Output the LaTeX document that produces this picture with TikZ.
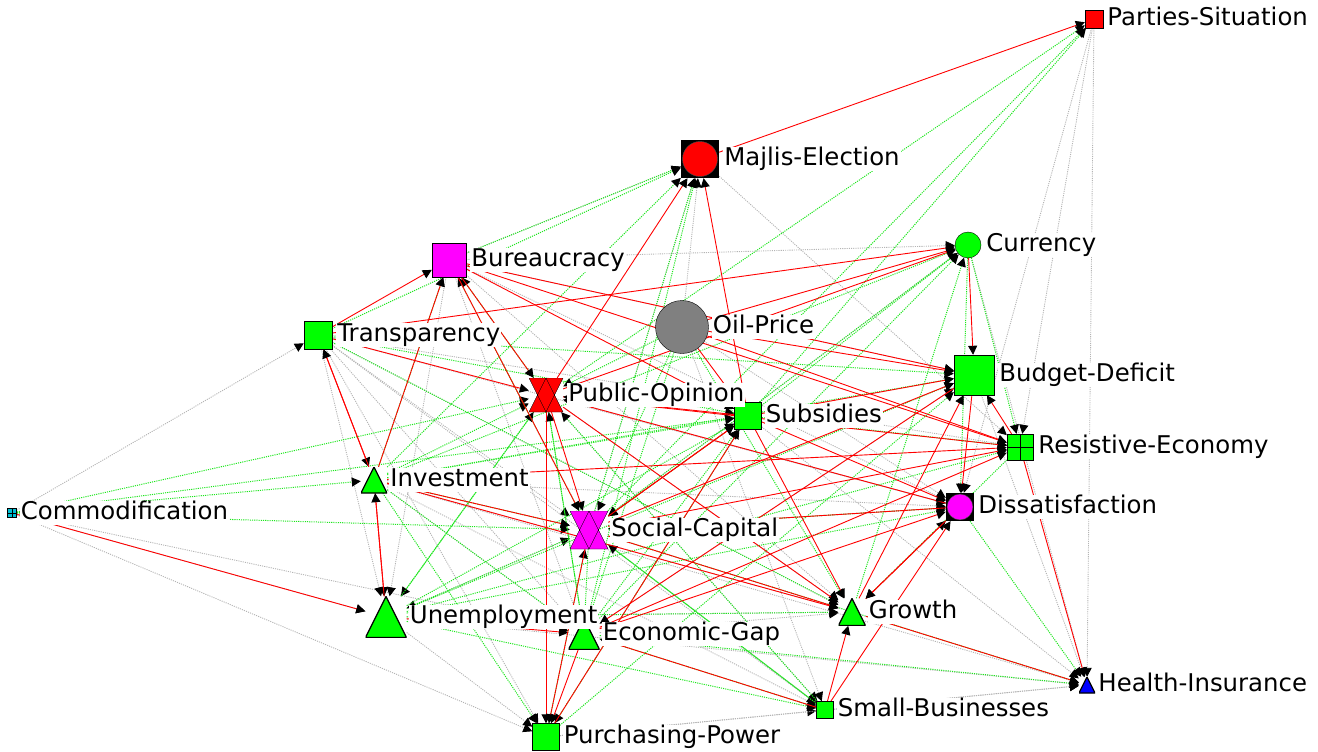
\documentclass[tikz,border=0pt]{standalone}
\usepackage{fontspec}
\setmainfont{DejaVu Sans}
\usetikzlibrary{positioning,arrows.meta,backgrounds}
\definecolor{vred}{RGB}{255,0,0}
\definecolor{vgreen}{RGB}{0,255,0}
\definecolor{vmag}{RGB}{255,0,255}
\definecolor{vgray}{RGB}{128,128,128}
\definecolor{vblue}{RGB}{0,0,255}
\definecolor{vcyan}{RGB}{0,190,210}
\definecolor{lgray}{RGB}{180,180,180}
\definecolor{dgreen}{RGB}{30,230,30}

\begin{document}
\begin{tikzpicture}[x=1pt, y=-1pt,
  box/.style 2 args={rectangle, draw=black, fill=#2, minimum size=#1, inner sep=0pt},
  dot/.style 2 args={circle, draw=black, fill=#2, minimum size=#1, inner sep=0pt},
  ring/.style 2 args={rectangle, fill=black, minimum size=#1, inner sep=0pt,
    path picture={\filldraw[fill=#2, draw=black!70] (path picture bounding box.center) circle (0.46*#1);}},
  cross/.style 2 args={rectangle, draw=black, fill=#2, minimum size=#1, inner sep=0pt,
    path picture={\draw (path picture bounding box.north) -- (path picture bounding box.south)
      (path picture bounding box.west) -- (path picture bounding box.east);}},
  tri/.style 2 args={rectangle, minimum size=#1, inner sep=0pt,
    path picture={\filldraw[fill=#2, draw=black, line width=1.2pt]
      (path picture bounding box.south west) -- (path picture bounding box.south east)
      -- (path picture bounding box.north) -- cycle;}},
  hour/.style 2 args={rectangle, minimum size=#1, inner sep=0pt,
    path picture={\filldraw[fill=#2, draw=black]
      (path picture bounding box.north west) -- (path picture bounding box.north east)
      -- (path picture bounding box.south) -- cycle
      (path picture bounding box.south east) -- (path picture bounding box.south west)
      -- (path picture bounding box.north) -- cycle;}},
  lab/.style={fill=white, inner sep=1pt, font=\fontsize{24.4}{28}\selectfont,
    text height=17.5pt, text depth=5pt},
  tip/.style={-{Triangle[length=9pt,width=9pt,black]}},
  posrel/.style={tip, draw=vred, line width=0.9pt},
  negrel/.style={tip, draw=dgreen, line width=1pt, dash pattern=on 1.1pt off 1.1pt},
  nonrel/.style={tip, draw=lgray, line width=0.9pt, dash pattern=on 1.1pt off 1.1pt}
]
\useasboundingbox (0,0) rectangle (1318,752);

% concepts
\node[box={18pt}{vred}] (PS) at (1094,19) {};
\node[ring={38pt}{vred}] (ME) at (700,159) {};
\node[dot={26pt}{vgreen}] (CU) at (968,245) {};
\node[box={34pt}{vmag}] (BU) at (449,260) {};
\node[box={28pt}{vgreen}] (TR) at (318,335) {};
\node[dot={53pt}{vgray}] (OP) at (682,327) {};
\node[box={40pt}{vgreen}] (BD) at (974,375) {};
\node[hour={34pt}{vred}] (PO) at (546,395) {};
\node[box={27pt}{vgreen}] (SU) at (748,416) {};
\node[cross={26pt}{vgreen}] (RE) at (1020,447) {};
\node[tri={26pt}{vgreen}] (IN) at (374,480) {};
\node[ring={28pt}{vmag}] (DI) at (960,507) {};
\node[cross={9pt}{vcyan}] (CO) at (12,513) {};
\node[hour={38pt}{vmag}] (SC) at (589,530) {};
\node[tri={41pt}{vgreen}] (UN) at (386,617) {};
\node[tri={31pt}{vgreen}] (EG) at (584,634) {};
\node[tri={27pt}{vgreen}] (GR) at (852,612) {};
\node[tri={16pt}{vblue}] (HI) at (1087,685) {};
\node[box={17pt}{vgreen}] (SB) at (825,710) {};
\node[box={27pt}{vgreen}] (PP) at (546,737) {};

% labels
\node[lab, right=3pt of PS] (lPS) {Parties-Situation};
\node[lab, right=4pt of ME] (lME) {Majlis-Election};
\node[lab, right=4pt of CU] (lCU) {Currency};
\node[lab, right=4pt of BU] (lBU) {Bureaucracy};
\node[lab, right=4pt of TR] (lTR) {Transparency};
\node[lab, right=3pt of OP] (lOP) {Oil-Price};
\node[lab, right=4pt of BD] (lBD) {Budget-Deficit};
\node[lab, right=4pt of PO] (lPO) {Public-Opinion};
\node[lab, right=3pt of SU] (lSU) {Subsidies};
\node[lab, right=4pt of RE] (lRE) {Resistive-Economy};
\node[lab, right=2pt of IN] (lIN) {Investment};
\node[lab, right=3pt of DI] (lDI) {Dissatisfaction};
\node[lab, right=3pt of CO] (lCO) {Commodification};
\node[lab, right=2pt of SC] (lSC) {Social-Capital};
\node[lab, right=2pt of UN] (lUN) {Unemployment};
\node[lab, right=2pt of EG] (lEG) {Economic-Gap};
\node[lab, right=2pt of GR] (lGR) {Growth};
\node[lab, right=2pt of HI] (lHI) {Health-Insurance};
\node[lab, right=3pt of SB] (lSB) {Small-Businesses};
\node[lab, right=3pt of PP] (lPP) {Purchasing-Power};

% relations
\begin{pgfonlayer}{background}
\foreach \a/\b in {CO/TR, CO/PP, CO/EG, PS/RE, PS/DI, CU/HI, TR/SC, TR/UN, TR/GR,
  BU/CU, BU/BD, BU/DI, UN/PP, SB/HI, IN/DI, SC/ME, ME/RE, OP/ME, TR/EG, BU/GR,
  UN/SC, PP/SB, EG/GR, PO/DI, TR/RE, UN/HI, PP/HI, BD/HI, IN/SB, SC/DI, OP/DI,
  BU/ME, PS/HI, UN/GR, TR/DI, IN/GR, CO/UN, TR/SB, PO/SB, IN/HI, EG/BD, BU/UN,
  TR/PP, IN/EG, SC/SB, PO/GR, BU/EG, OP/SB, CU/SC, SU/HI}
  \draw[nonrel] (\a) -- (\b);
\foreach \a/\b in {CO/IN, CO/PO, CO/SU, CO/SC, BU/ME, IN/ME, PO/PS, SC/PS, SU/PS,
  SC/CU, SU/CU, IN/CU, EG/CU, TR/BD, IN/BD, UN/BD, CU/RE, SU/RE, UN/RE, SC/DI,
  UN/DI, UN/GR, TR/GR, UN/SB, EG/SB, SC/SB, SU/PP, IN/PP, SC/HI, EG/HI, DI/HI,
  SC/UN, PO/UN, SC/EG, IN/EG, PO/EG, SU/SC, IN/PO, UN/PO, EG/PO, IN/SU, TR/SU,
  EG/SU, UN/SU, IN/BU, SC/BU, PO/BU, CU/DI, OP/SC, OP/PO, OP/GR, OP/EG, PP/SC,
  SB/SC, SB/PO, GR/CU, PP/BD, EG/ME, SC/ME, RE/GR, TR/ME, IN/SC}
  \draw[negrel] (\a) -- (\b);
\foreach \a/\b in {ME/PS, PO/ME, SU/ME, TR/BU, TR/PO, TR/CU, TR/IN, IN/TR, IN/UN,
  UN/IN, CO/UN, IN/RE, IN/SC, IN/GR, BU/PO, BU/SC, BU/SU, BU/BD, BU/RE, OP/CU,
  OP/BD, OP/SU, OP/RE, PO/CU, PO/PP, PO/SC, PO/RE, PO/GR, SU/BD, SU/PO, SU/GR,
  SU/SC, CU/BD, BD/DI, BD/EG, RE/BD, RE/HI, DI/PO, DI/SC, EG/DI, EG/PP, EG/RE,
  GR/BD, GR/DI, GR/HI, SB/GR, SB/DI, SB/EG, SC/GR, SC/SU, SC/BD, UN/EG, PP/SU,
  SC/PP, SC/RE, DI/GR, SU/DI, IN/BU}
  \draw[posrel] (\a) -- (\b);
\end{pgfonlayer}
\end{tikzpicture}
\end{document}
